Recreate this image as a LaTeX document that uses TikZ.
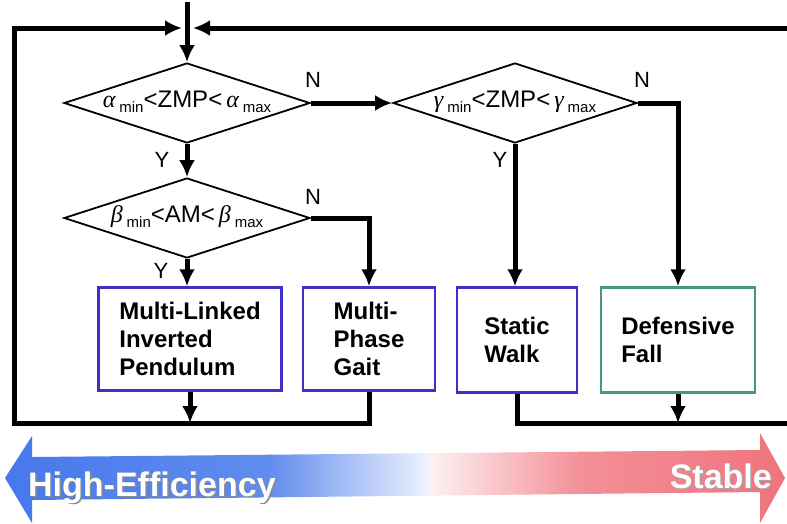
\documentclass[tikz,border=0pt]{standalone}
\usepackage{fontspec}
\setmainfont{Liberation Sans}
\newfontfamily\grkfont{Liberation Serif}
\usetikzlibrary{shapes.geometric,arrows.meta,calc}
\definecolor{boxblue}{RGB}{62,48,200}
\definecolor{boxgreen}{RGB}{70,150,130}
\definecolor{bblue}{RGB}{70,120,235}
\definecolor{bred}{RGB}{240,115,125}
\newcommand\lowsub[1]{\raisebox{-5pt}{\fontsize{15}{15}\selectfont #1}}
\newcommand\grk[1]{{\grkfont\itshape #1}}
\begin{document}
\begin{tikzpicture}[x=1pt,y=-1pt,
  conn/.style={line width=5pt},
  arr/.style={conn,-{Latex[length=17pt,width=16pt]}},
  decision/.style={shape=diamond,draw,line width=1.8pt,inner sep=0pt,minimum width=246pt,minimum height=80pt},
  cond/.style={font=\fontsize{24}{24}\selectfont,inner sep=0pt},
  yn/.style={font=\fontsize{22}{22}\selectfont,inner sep=0pt},
  stepbox/.style={draw=boxblue,line width=2.5pt,inner sep=0pt,minimum height=103pt,
    font=\bfseries\fontsize{24}{28}\selectfont,align=left},
  bannertext/.style={font=\bfseries\fontsize{34}{34}\selectfont,inner sep=0pt},
]
\useasboundingbox[fill=white] (0,0) rectangle (787,523);

% decisions
\node[decision] (d1) at (187,103) {};
\node[decision,minimum width=244pt] (d2) at (515,103) {};
\node[decision] (d3) at (187,218) {};
\node[cond] (c1) at ($(d1)+(0,-1)$) {\grk{α}\,\lowsub{min}<ZMP<\,\grk{α}\,\lowsub{max}};
\node[cond] (c2) at ($(d2)+(0,-1)$) {\grk{γ}\,\lowsub{min}<ZMP<\,\grk{γ}\,\lowsub{max}};
\node[cond] (c3) at ($(d3)+(0,-1)$) {\grk{β}\,\lowsub{min}<AM<\,\grk{β}\,\lowsub{max}};

% boxes
\node[stepbox,minimum width=183pt] (b1) at (190,339) {Multi-Linked\\Inverted\\Pendulum};
\node[stepbox,minimum width=132pt] (b2) at (369,339) {Multi-\\Phase\\Gait};
\node[stepbox,minimum width=120pt,minimum height=105pt] (b3) at (517,340) {Static\\Walk};
\node[stepbox,draw=boxgreen,minimum width=154pt,minimum height=105pt] (b4) at (678,340) {Defensive\\Fall};

% labels
\node[yn] (n1) at (313,80) {N};
\node[yn] (y1) at (162,160) {Y};
\node[yn] (n3) at (313,197) {N};
\node[yn] (y3) at (161,271) {Y};
\node[yn] (n2) at (642,80) {N};
\node[yn] (y2) at (500,160) {Y};

% coordinates
\coordinate (top) at (187,2);
\coordinate (jl) at (14,423);
\coordinate (jr) at (800,423);
\coordinate (tr) at (800,28);
\coordinate (ml) at (182,28);
\coordinate (mr) at (193,28);

% connectors
\draw[arr] (top) -- (d1.north);
\draw[arr] (d1.east) -- (d2.west);
\draw[arr] (d1.south) -- (d3.north);
\draw[arr] (d3.south) -- (d3.south |- b1.north);
\draw[arr] (d3.east) -| (b2.north);
\draw[arr] (d2.south) -- (d2.south |- b3.north);
\draw[arr] (d2.east) -| (b4.north);
\draw[arr] (b1.south) -- (b1.south |- jl);
\draw[arr] (b4.south) -- (b4.south |- jr);
\draw[arr] (b2.south) |- (jl) |- (ml);
\draw[arr] (b3.south) |- (jr) -- (tr) -- (mr);

% banner
\begin{scope}
\clip (5,478) -- (32,436) -- (32,457) -- (760,450) -- (760,433) -- (785,478) -- (760,523) -- (760,492) -- (32,500) -- (32,523) -- cycle;
\shade[left color=bblue, right color=bblue!85] (0,430) rectangle (270,523);
\shade[left color=bblue!85, right color=bblue!8] (269,430) rectangle (431,523);
\shade[left color=bred!10, right color=bred!80] (430,430) rectangle (581,523);
\shade[left color=bred!80, right color=bred] (580,430) rectangle (787,523);
\end{scope}
\node[bannertext,text=black!45,anchor=base west] (hes) at (29.5,497.5) {High-Efficiency};
\node[bannertext,text=white,anchor=base west] (he) at (28,496) {High-Efficiency};
\node[bannertext,text=black!35,anchor=base east] (sts) at (773.5,489.5) {Stable};
\node[bannertext,text=white,anchor=base east] (st) at (772,488) {Stable};
\end{tikzpicture}
\end{document}
